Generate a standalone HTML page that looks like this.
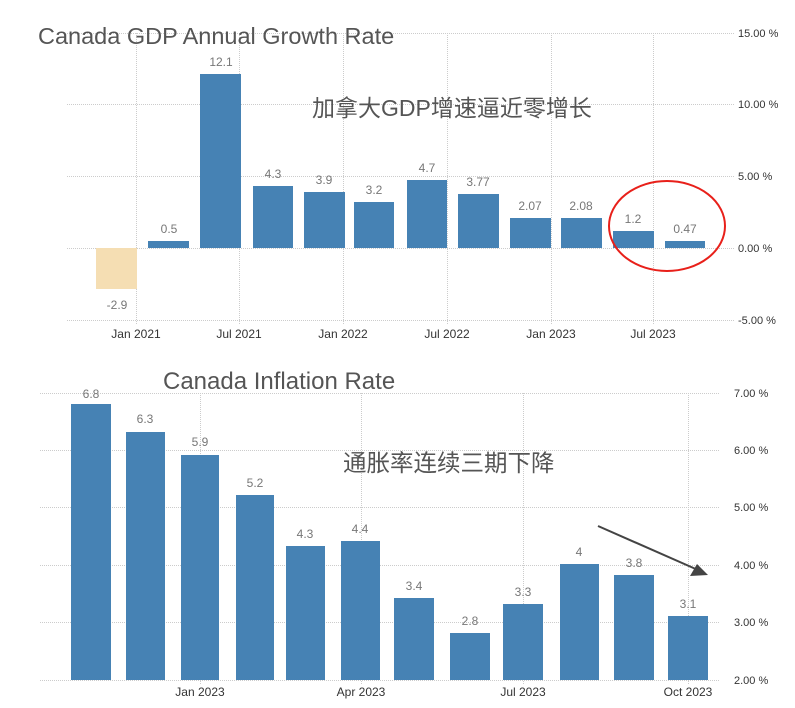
<!DOCTYPE html>
<html><head><meta charset="utf-8"><style>
body{margin:0;background:#fff;width:795px;height:703px;overflow:hidden}
svg text{font-family:"Liberation Sans","Noto Sans CJK SC",sans-serif}
</style></head><body>
<svg width="795" height="703" xmlns="http://www.w3.org/2000/svg">
<g stroke="#ccc" stroke-dasharray="1,1" stroke-width="1">
<line x1="67" x2="735" y1="33.5" y2="33.5"/><line x1="67" x2="735" y1="104.5" y2="104.5"/><line x1="67" x2="735" y1="176.5" y2="176.5"/><line x1="67" x2="735" y1="248.5" y2="248.5"/><line x1="67" x2="735" y1="320.5" y2="320.5"/>
<line x1="136.5" x2="136.5" y1="33" y2="325"/><line x1="239.5" x2="239.5" y1="33" y2="325"/><line x1="343.5" x2="343.5" y1="33" y2="325"/><line x1="447.5" x2="447.5" y1="33" y2="325"/><line x1="551.5" x2="551.5" y1="33" y2="325"/><line x1="653.5" x2="653.5" y1="33" y2="325"/>
<line x1="40" x2="720" y1="393.5" y2="393.5"/><line x1="40" x2="720" y1="450.5" y2="450.5"/><line x1="40" x2="720" y1="507.5" y2="507.5"/><line x1="40" x2="720" y1="565.5" y2="565.5"/><line x1="40" x2="720" y1="622.5" y2="622.5"/><line x1="40" x2="720" y1="680.5" y2="680.5"/>
<line x1="200.5" x2="200.5" y1="393" y2="684"/><line x1="361.5" x2="361.5" y1="393" y2="684"/><line x1="523.5" x2="523.5" y1="393" y2="684"/><line x1="688.5" x2="688.5" y1="393" y2="684"/>
</g>
<g font-size="11" fill="#333">
<text x="738" y="37">15.00 %</text><text x="738" y="108">10.00 %</text><text x="738" y="180">5.00 %</text><text x="738" y="252">0.00 %</text><text x="738" y="324">-5.00 %</text>
<text x="734" y="397">7.00 %</text><text x="734" y="454">6.00 %</text><text x="734" y="511">5.00 %</text><text x="734" y="569">4.00 %</text><text x="734" y="626">3.00 %</text><text x="734" y="684">2.00 %</text>
</g>
<g font-size="12" fill="#333" text-anchor="middle">
<text x="136" y="338">Jan 2021</text><text x="239" y="338">Jul 2021</text><text x="343" y="338">Jan 2022</text><text x="447" y="338">Jul 2022</text><text x="551" y="338">Jan 2023</text><text x="653" y="338">Jul 2023</text>
<text x="200" y="696">Jan 2023</text><text x="361" y="696">Apr 2023</text><text x="523" y="696">Jul 2023</text><text x="688" y="696">Oct 2023</text>
</g>
<rect x="96" y="248" width="41" height="41" fill="#f5deb3"/>
<g fill="#4682b4">
<rect x="148" y="241" width="41" height="7"/><rect x="200" y="74" width="41" height="174"/><rect x="253" y="186" width="40" height="62"/><rect x="304" y="192" width="41" height="56"/><rect x="354" y="202" width="40" height="46"/><rect x="407" y="180" width="40" height="68"/><rect x="458" y="194" width="41" height="54"/><rect x="510" y="218" width="41" height="30"/><rect x="561" y="218" width="41" height="30"/><rect x="613" y="231" width="41" height="17"/><rect x="665" y="241" width="40" height="7"/>
<rect x="71" y="404" width="40" height="276"/><rect x="126" y="432" width="39" height="248"/><rect x="181" y="455" width="38" height="225"/><rect x="236" y="495" width="38" height="185"/><rect x="286" y="546" width="39" height="134"/><rect x="341" y="541" width="39" height="139"/><rect x="394" y="598" width="40" height="82"/><rect x="450" y="633" width="40" height="47"/><rect x="503" y="604" width="40" height="76"/><rect x="560" y="564" width="39" height="116"/><rect x="614" y="575" width="40" height="105"/><rect x="668" y="616" width="40" height="64"/>
</g>
<g font-size="12" fill="#777" text-anchor="middle">
<text x="117" y="309">-2.9</text><text x="169" y="233">0.5</text><text x="221" y="66">12.1</text><text x="273" y="178">4.3</text><text x="324" y="184">3.9</text><text x="374" y="194">3.2</text><text x="427" y="172">4.7</text><text x="478" y="186">3.77</text><text x="530" y="210">2.07</text><text x="581" y="210">2.08</text><text x="633" y="223">1.2</text><text x="685" y="233">0.47</text>
<text x="91" y="398">6.8</text><text x="145" y="423">6.3</text><text x="200" y="446">5.9</text><text x="255" y="487">5.2</text><text x="305" y="538">4.3</text><text x="360" y="533">4.4</text><text x="414" y="590">3.4</text><text x="470" y="625">2.8</text><text x="523" y="596">3.3</text><text x="579" y="556">4</text><text x="634" y="567">3.8</text><text x="688" y="608">3.1</text>
</g>
<text x="38" y="44" font-size="23.5" fill="#555">Canada GDP Annual Growth Rate</text>
<text x="163" y="389" font-size="24" fill="#555">Canada Inflation Rate</text>
<text x="312" y="116" font-size="23" fill="#555">加拿大GDP增速逼近零增长</text>
<text x="343" y="471" font-size="23.5" fill="#555">通胀率连续三期下降</text>
<ellipse cx="667" cy="226" rx="58" ry="45" fill="none" stroke="#e8201a" stroke-width="2"/>
<line x1="598" y1="526" x2="698" y2="570" stroke="#444" stroke-width="2"/>
<polygon points="708,575 690,576 697,564" fill="#444"/>
</svg>
</body></html>
